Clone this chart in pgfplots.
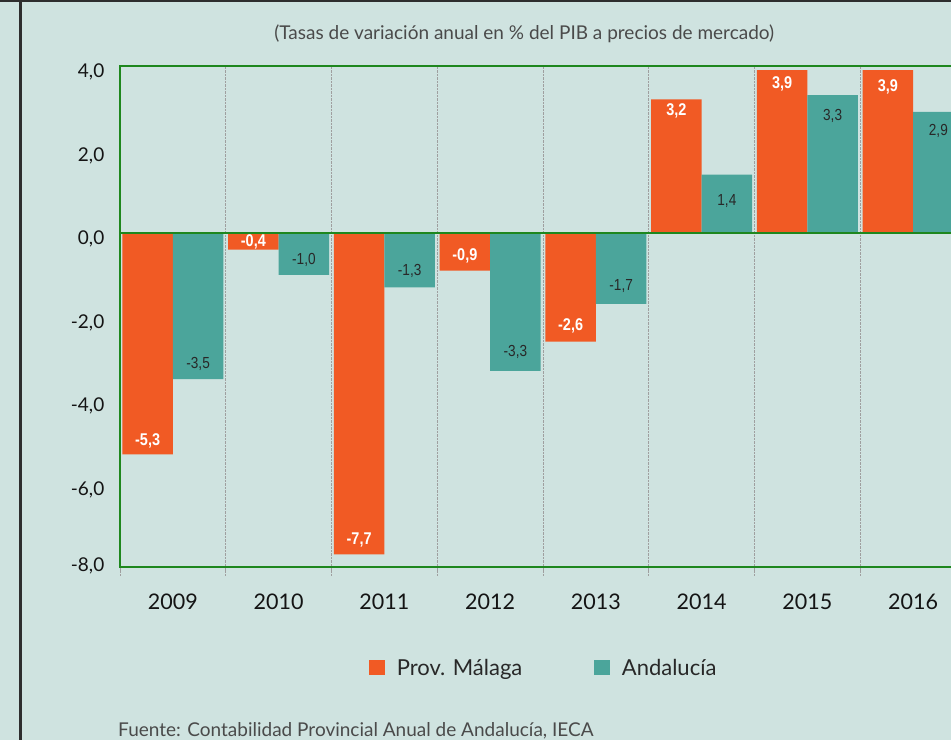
\documentclass[border=0pt]{standalone}
\usepackage{pgfplots}
\usepackage{pgfplotstable}
\pgfplotsset{compat=1.18}
\usepackage{fontspec}
\setmainfont{Lato}
\newfontfamily\narrowfont[FakeStretch=0.85]{Liberation Sans}
\definecolor{bg}{RGB}{207,227,224}
\definecolor{malaga}{RGB}{241,90,36}
\definecolor{anda}{RGB}{75,165,155}
\definecolor{framegreen}{RGB}{30,135,30}
\definecolor{titlegray}{RGB}{74,74,74}
\definecolor{darktext}{RGB}{40,40,40}

\pgfplotstableread{
x mal malo and ando
0 -5.3 13 -3.5 15
1 -0.4 8 -1.0 15
2 -7.7 14.5 -1.3 16
3 -0.9 14.5 -3.3 19
4 -2.6 15.5 -1.7 18
5 3.2 -11 1.4 -26
6 3.9 -14 3.3 -21
7 3.9 -17 2.9 -19.5
}\datatable

\begin{document}
\begin{tikzpicture}[x=1pt,y=1pt]
\path[use as bounding box] (0,0) rectangle (951,740);
\clip (0,0) rectangle (951,740);
\fill[bg] (0,0) rectangle (951,740);
\fill[black!82] (0,738.3) rectangle (951,740);
\fill[black!82] (19,0) rectangle (22,740);
\node[anchor=base, inner sep=0pt, text=titlegray, font=\fontsize{19}{19}\selectfont] at (524.2,700.7) {(Tasas de variación anual en \% del PIB a precios de mercado)};
\node[anchor=base west, inner sep=0pt, text=titlegray, font=\fontsize{19}{19}\selectfont] at (118,4) {Fuente: Contabilidad Provincial Anual de Andalucía, IECA};
\begin{axis}[
  at={(120pt,173pt)}, anchor=south west,
  scale only axis, width=846pt, height=501pt,
  xmin=-0.5, xmax=7.5, ymin=-8, ymax=4,
  axis line style={framegreen, line width=1.6pt},
  ybar=0pt, bar width=50.5pt,
  xtick={0,...,7},
  xticklabels={2009,2010,2011,2012,2013,2014,2015,2016},
  minor xtick={-0.5,0.5,...,7.5},
  xminorgrids,
  minor grid style={gray!75, densely dotted, line width=0.8pt},
  every minor tick/.append style={gray!75, densely dotted, line width=0.8pt},
  minor tick length=8pt,
  major tick length=0pt,
  tick align=outside,
  xtick pos=lower, ytick pos=left,
  ytick={-6,-4,...,4},
  extra y ticks={-8},
  extra y tick style={yticklabel style={yshift=7pt}},
  /pgf/number format/.cd, fixed, fixed zerofill, precision=1, use comma, assume math mode=true,
  /pgfplots/.cd,
  yticklabel style={anchor=base east, inner sep=0pt, xshift=-15.5pt, yshift=-11.5pt, text=black!92, font=\fontsize{19}{19}\selectfont},
  xticklabel style={anchor=base, inner sep=0pt, yshift=-42pt, text=black!92, font=\fontsize{21.5}{21.5}\selectfont},
  legend style={at={(axis description cs:0.2947,-0.2016)}, anchor=west, draw=none, fill=none,
    inner sep=0pt, outer sep=0pt, cells={anchor=base west, inner sep=0pt},
    font=\fontsize{22}{22}\selectfont, text=darktext,
    /tikz/every odd column/.append style={column sep=9.5pt},
    /tikz/every even column/.append style={column sep=70pt}},
  legend columns=-1,
  legend image code/.code={\fill[#1, draw=none] (0pt,0pt) rectangle (16pt,15pt);},
  clip=false,
]
\addplot[fill=malaga, draw=none,
  nodes near coords={\pgfmathprintnumber[fixed,fixed zerofill,precision=1,use comma,assume math mode=true]{\pgfplotspointmeta}},
  visualization depends on={\thisrow{malo} \as \off},
  every node near coord/.append style={anchor=center, yshift=\off pt, text=white, inner sep=0pt, font=\narrowfont\bfseries\fontsize{17}{17}\selectfont}
  ] table[x=x, y=mal] {\datatable};
\addlegendentry{Prov. Málaga}
\addplot[fill=anda, draw=none,
  nodes near coords={\pgfmathprintnumber[fixed,fixed zerofill,precision=1,use comma,assume math mode=true]{\pgfplotspointmeta}},
  visualization depends on={\thisrow{ando} \as \off},
  every node near coord/.append style={anchor=center, yshift=\off pt, text=darktext, inner sep=0pt, font=\narrowfont\fontsize{16}{16}\selectfont}
  ] table[x=x, y=and] {\datatable};
\addlegendentry{Andalucía}
\draw[framegreen, line width=1.6pt] (axis cs:-0.5,0) -- (axis cs:7.5,0);
\end{axis}
\end{tikzpicture}
\end{document}
